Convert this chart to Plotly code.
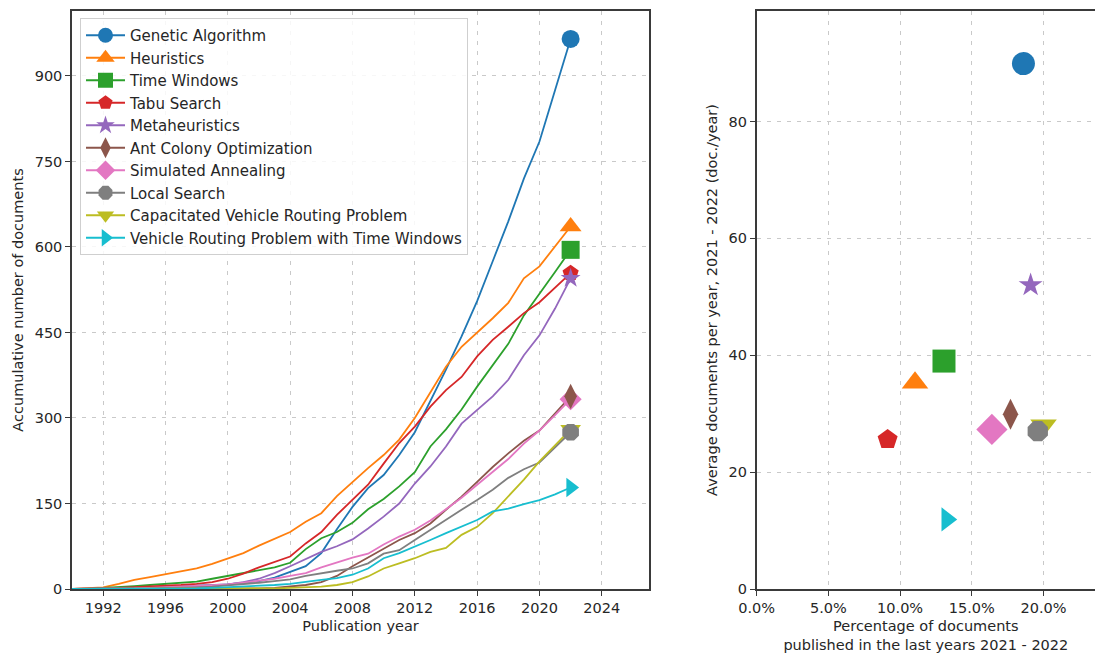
import plotly.graph_objects as go

# ---------------------------------------------------------------- data
years = list(range(1990, 2023))

series_names = [
    "Genetic Algorithm",
    "Heuristics",
    "Time Windows",
    "Tabu Search",
    "Metaheuristics",
    "Ant Colony Optimization",
    "Simulated Annealing",
    "Local Search",
    "Capacitated Vehicle Routing Problem",
    "Vehicle Routing Problem with Time Windows",
]

# accumulated number of documents per year (1990 .. 2022)
genetic_algorithm = [0, 0, 1, 1, 2, 3, 3, 4, 5, 6, 8, 11, 14, 20, 30, 40, 63, 105, 144, 177,
                     200, 235, 275, 330, 385, 443, 505, 575, 645, 720, 785, 875, 965]
heuristics = [0, 1, 3, 9, 16, 21, 26, 31, 36, 44, 54, 63, 76, 88, 100, 118, 133, 163, 188, 212,
              235, 262, 300, 345, 390, 425, 450, 475, 502, 545, 566, 601, 636]
time_windows = [0, 0, 2, 3, 5, 7, 9, 11, 13, 18, 23, 28, 34, 38, 46, 70, 89, 100, 116, 140,
                158, 180, 205, 250, 280, 315, 355, 392, 430, 480, 517, 556, 595]
tabu_search = [0, 0, 1, 2, 3, 4, 5, 7, 9, 12, 18, 27, 38, 47, 57, 80, 100, 130, 156, 183,
               220, 256, 285, 320, 349, 372, 408, 437, 460, 484, 503, 528, 554]
metaheuristics = [0, 0, 0, 0, 1, 1, 2, 3, 4, 6, 8, 12, 18, 28, 40, 52, 65, 75, 87, 106,
                  127, 150, 185, 215, 250, 290, 314, 338, 367, 410, 445, 492, 545]
ant_colony = [0, 0, 0, 0, 0, 0, 0, 0, 0, 0, 1, 1, 1, 2, 4, 7, 12, 23, 40, 55,
              71, 86, 98, 115, 139, 162, 188, 214, 238, 260, 278, 308, 338]
simulated_annealing = [0, 0, 0, 1, 1, 2, 3, 4, 5, 6, 8, 11, 14, 18, 23, 28, 38, 47, 55, 62,
                       78, 92, 104, 120, 140, 160, 183, 205, 228, 255, 278, 305, 333]
local_search = [0, 0, 0, 0, 1, 1, 2, 2, 3, 4, 6, 8, 11, 14, 17, 23, 28, 32, 36, 45,
                62, 68, 86, 104, 121, 139, 156, 174, 195, 210, 222, 248, 275]
capacitated_vrp = [0, 0, 0, 0, 0, 0, 0, 0, 0, 0, 0, 0, 1, 1, 2, 3, 4, 7, 12, 22,
                   36, 45, 54, 65, 72, 95, 109, 133, 162, 192, 224, 252, 280]
vrp_time_windows = [0, 0, 0, 0, 0, 0, 1, 1, 1, 2, 3, 4, 5, 7, 9, 13, 16, 19, 25, 36,
                    54, 63, 74, 86, 98, 109, 121, 136, 141, 149, 156, 166, 178]

# share of documents published in 2021-2022 and yearly average in that period
share_recent = [0.186, 0.1104, 0.1306, 0.0913, 0.191, 0.177, 0.164, 0.196, 0.200, 0.1325]
avg_per_year = [89.9, 35.3, 39.0, 25.6, 52.0, 29.9, 27.3, 27.0, 28.0, 11.9]

# ---------------------------------------------------------------- styling
cumulative = [genetic_algorithm, heuristics, time_windows, tabu_search, metaheuristics,
              ant_colony, simulated_annealing, local_search, capacitated_vrp, vrp_time_windows]
colors = ["#1f77b4", "#ff7f0e", "#2ca02c", "#d62728", "#9467bd",
          "#8c564b", "#e377c2", "#7f7f7f", "#bcbd22", "#17becf"]
symbols = ["circle", "triangle-up", "square", "pentagon", "star",
           "diamond-tall", "diamond", "octagon", "triangle-down", "triangle-right"]
end_sizes = [18, 19, 18, 17, 15, 18, 17, 18, 18, 17]
scatter_sizes = [23, 23, 23, 21, 18, 22, 24, 22, 23, 21]
legend_sizes = [15, 16, 15, 15, 14, 15, 15, 15, 15, 15]
# markers drawn later sit on top
draw_order = [0, 1, 2, 3, 4, 6, 5, 8, 7, 9]

FONT = "DejaVu Sans"
TXT = "#262626"

fig = go.Figure()

for i in range(len(series_names)):
    fig.add_trace(go.Scatter(
        x=years, y=cumulative[i], mode="lines",
        line=dict(color=colors[i], width=1.8),
        name=series_names[i], showlegend=False,
        xaxis="x", yaxis="y",
    ))

for i in draw_order:
    fig.add_trace(go.Scatter(
        x=[years[-1]], y=[cumulative[i][-1]], mode="markers",
        marker=dict(symbol=symbols[i], size=end_sizes[i], color=colors[i], line=dict(width=0)),
        name=series_names[i], showlegend=False,
        xaxis="x", yaxis="y",
    ))

for i in draw_order:
    fig.add_trace(go.Scatter(
        x=[share_recent[i]], y=[avg_per_year[i]], mode="markers",
        marker=dict(symbol=symbols[i], size=scatter_sizes[i], color=colors[i], line=dict(width=0)),
        name=series_names[i], showlegend=False,
        xaxis="x2", yaxis="y2",
    ))

# legend entries (line with marker handle)
for i in range(len(series_names)):
    fig.add_trace(go.Scatter(
        x=[None], y=[None], mode="lines+markers",
        line=dict(color=colors[i], width=1.8),
        marker=dict(symbol=symbols[i], size=legend_sizes[i], color=colors[i], line=dict(width=0)),
        name=series_names[i], showlegend=True,
        xaxis="x", yaxis="y",
    ))

W, H = 1095, 657
L_x0, L_x1 = 72, 649
R_x0 = 756.7
Y_top, Y_bot = 11, 589

axis_common = dict(
    showline=True, linecolor="#3a3a3a", linewidth=1.5,
    ticks="outside", ticklen=5, tickwidth=1.2, tickcolor="#3a3a3a",
    showgrid=True, gridcolor="#c9c9c9", gridwidth=1, griddash="4px,6px",
    zeroline=False, automargin=False,
    tickfont=dict(family=FONT, size=14.5, color=TXT),
)

fig.update_layout(
    width=W, height=H,
    margin=dict(l=0, r=0, t=0, b=0, autoexpand=False),
    paper_bgcolor="white", plot_bgcolor="white",
    font=dict(family=FONT, color=TXT),
    xaxis=dict(
        domain=[L_x0 / W, L_x1 / W], range=[1990, 2027.03],
        tickmode="array", tickvals=list(range(1992, 2025, 4)),
        mirror=True,
        title=dict(text="Publication year", font=dict(family=FONT, size=14.5, color=TXT), standoff=6),
        anchor="y",
        **axis_common,
    ),
    yaxis=dict(
        domain=[(H - Y_bot) / H, (H - Y_top) / H], range=[0, 1014],
        tickmode="array", tickvals=list(range(0, 901, 150)),
        mirror=True,
        title=dict(text="Accumulative number of documents", font=dict(family=FONT, size=14.5, color=TXT), standoff=8),
        anchor="x",
        **axis_common,
    ),
    xaxis2=dict(
        domain=[R_x0 / W, 1.0], range=[0, 0.2359],
        tickmode="array", tickvals=[0, 0.05, 0.10, 0.15, 0.20], tickformat=".1%",
        mirror=True,
        title=dict(text="Percentage of documents<br>published in the last years 2021 - 2022",
                   font=dict(family=FONT, size=14.5, color=TXT), standoff=6),
        anchor="y2",
        **axis_common,
    ),
    yaxis2=dict(
        domain=[(H - Y_bot) / H, (H - Y_top) / H], range=[0, 98.9],
        tickmode="array", tickvals=[0, 20, 40, 60, 80],
        mirror=False,
        title=dict(text="Average documents per year, 2021 - 2022 (doc./year)",
                   font=dict(family=FONT, size=14.5, color=TXT), standoff=8),
        anchor="x2",
        **axis_common,
    ),
    legend=dict(
        x=80 / W, y=1 - 18 / H, xanchor="left", yanchor="top",
        bgcolor="rgba(255,255,255,0.85)", bordercolor="#cfcfcf", borderwidth=1,
        font=dict(family=FONT, size=15, color=TXT),
        tracegroupgap=0, itemsizing="trace", itemwidth=39,
    ),
    showlegend=True,
)

fig.write_html("out.html")
